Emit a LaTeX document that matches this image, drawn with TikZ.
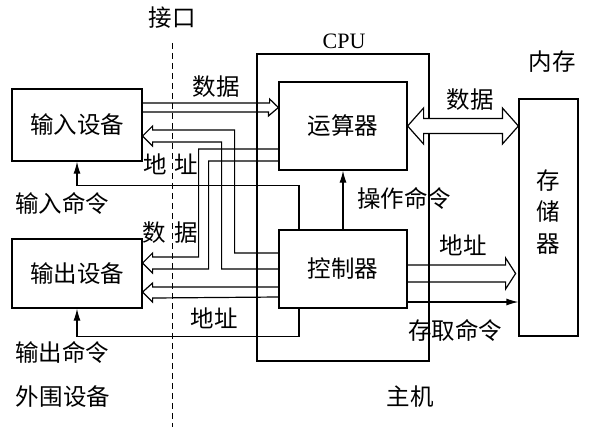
\documentclass[tikz,border=0pt]{standalone}
\usepackage{fontspec}
\setmainfont{Noto Sans CJK SC}
\newfontfamily\latinfont{Liberation Serif}
\usetikzlibrary{calc,arrows.meta}

\begin{document}
\begin{tikzpicture}[x=1pt,y=-1pt,line width=1.2pt,
    every node/.style={font=\fontsize{23.5}{26}\selectfont},
    blk/.style={draw,rectangle,inner sep=0pt},
    cmd/.style={-{Latex[length=12pt,width=7pt]}},
    iface/.style={line width=1pt,dash pattern=on 6pt off 4pt}]
    \useasboundingbox (0,0) rectangle (593,429);

    % Host
    \node[blk, minimum width=172pt, minimum height=307pt] (cpu) at (343,207.5) {};
    \node (lCpu) at (344,41) {\fontsize{22}{26}\latinfont CPU};
    \node[blk, minimum width=128pt, minimum height=88pt] (alu) at (343,126) {运算器};
    \node[blk, minimum width=128pt, minimum height=78pt] (ctrl) at (343,269) {控制器};
    \node[blk, minimum width=59pt, minimum height=237pt, align=center,
          font=\fontsize{23.5}{31.5}\selectfont] (mem) at (548.5,217.5) {存\\储\\器\\[-18pt]};
    \node (lMain) at (552,62) {内存};
    \node (lHost) at (410,397) {主机};

    % Peripherals
    \node[blk, minimum width=130pt, minimum height=72pt] (in) at (77,125) {输入设备};
    \node[blk, minimum width=130pt, minimum height=69pt] (out) at (77,273.5) {输出设备};
    \node (lPeri) at (63,397) {外围设备};

    % Interface
    \node (ifc) at (172,18) {接口};
    \coordinate (ifBot) at (172,427);
    \draw[iface] ($(ifc.south)+(0,10)$) -- (ifBot);

    % Data: input device -> ALU
    \draw ($(in.east)+(0,-22)$) -- ++(127,0) -- ++(0,-4) -- ($(alu.west)+(0,-18.5)$)
        -- ++(-10,8.5) -- ++(0,-4) -- ($(in.east)+(0,-13)$);
    \node (lDataIn) at (216,87) {数据};

    % Address: controller -> input device
    \draw ($(ctrl.west)+(0,-16)$) -| ($(in.east)+(92,5)$) -- ($(in.east)+(10,5)$) -- ++(0,-4)
        -- ($(in.east)+(0,11)$) -- ++(10,10) -- ++(0,-4) -- ($(in.east)+(79,17)$) |- (ctrl.west);
    \node (lAddrIn) at (171,164) {地\hspace{8pt}址};

    % Data: ALU -> output device
    \draw ($(alu.west)+(0,23)$) -| ($(out.east)+(56,-16.5)$) -- ($(out.east)+(10,-16.5)$) -- ++(0,-4)
        -- ($(out.east)+(0,-10.5)$) -- ++(10,10) -- ++(0,-4) -- ($(out.east)+(66,-4.5)$) |- ($(alu.west)+(0,35)$);
    \node (lDataOut) at (170,233) {数\hspace{9pt}据};

    % Address: controller -> output device
    \draw ($(ctrl.west)+(0,18)$) -- ($(out.east)+(10,13.5)$) -- ++(0,-4) -- ($(out.east)+(0,18.5)$)
        -- ++(10,10) -- ++(0,-4) -- ($(ctrl.west)+(0,28)$);
    \node (lAddrOut) at (214,318) {地址};

    % Commands to devices
    \draw[cmd] ($(ctrl.north)+(-44,0)$) -- ++(0,-44) -| (in.south);
    \node (lCmdIn) at (62,203) {输入命令};
    \draw[cmd] ($(ctrl.south)+(-44,0)$) -- ++(0,28) -| (out.south);
    \node (lCmdOut) at (62,352) {输出命令};

    % Operation command
    \draw[cmd] (ctrl.north) -- (alu.south);
    \node (lOp) at (404,198) {操作命令};

    % Data: ALU <-> memory
    \draw[fill=white] (alu.east) -- ++(16,-18) -- ++(0,10.5) -- ($(mem.west |- alu.east)+(-16,-7.5)$)
        -- ++(0,-10.5) -- (mem.west |- alu.east) -- ++(-16,18) -- ++(0,-10.5)
        -- ($(alu.east)+(16,7.5)$) -- ++(0,10.5) -- cycle;
    \node (lDataMem) at (470,100) {数据};

    % Address: controller -> memory
    \draw ($(ctrl.east)+(0,-4)$) -- ++(98,0) -- ++(0,-7) -- ($(ctrl.east)+(108,4.5)$)
        -- ++(-10,15.5) -- ++(0,-7) -- ($(ctrl.east)+(0,13)$);
    \node (lAddrMem) at (463,245) {地址};

    % Access command
    \coordinate (acc) at ($(ctrl.east)+(0,33)$);
    \draw[cmd] (acc) -- (acc -| mem.west);
    \node (lAcc) at (455,330) {存取命令};
\end{tikzpicture}
\end{document}
